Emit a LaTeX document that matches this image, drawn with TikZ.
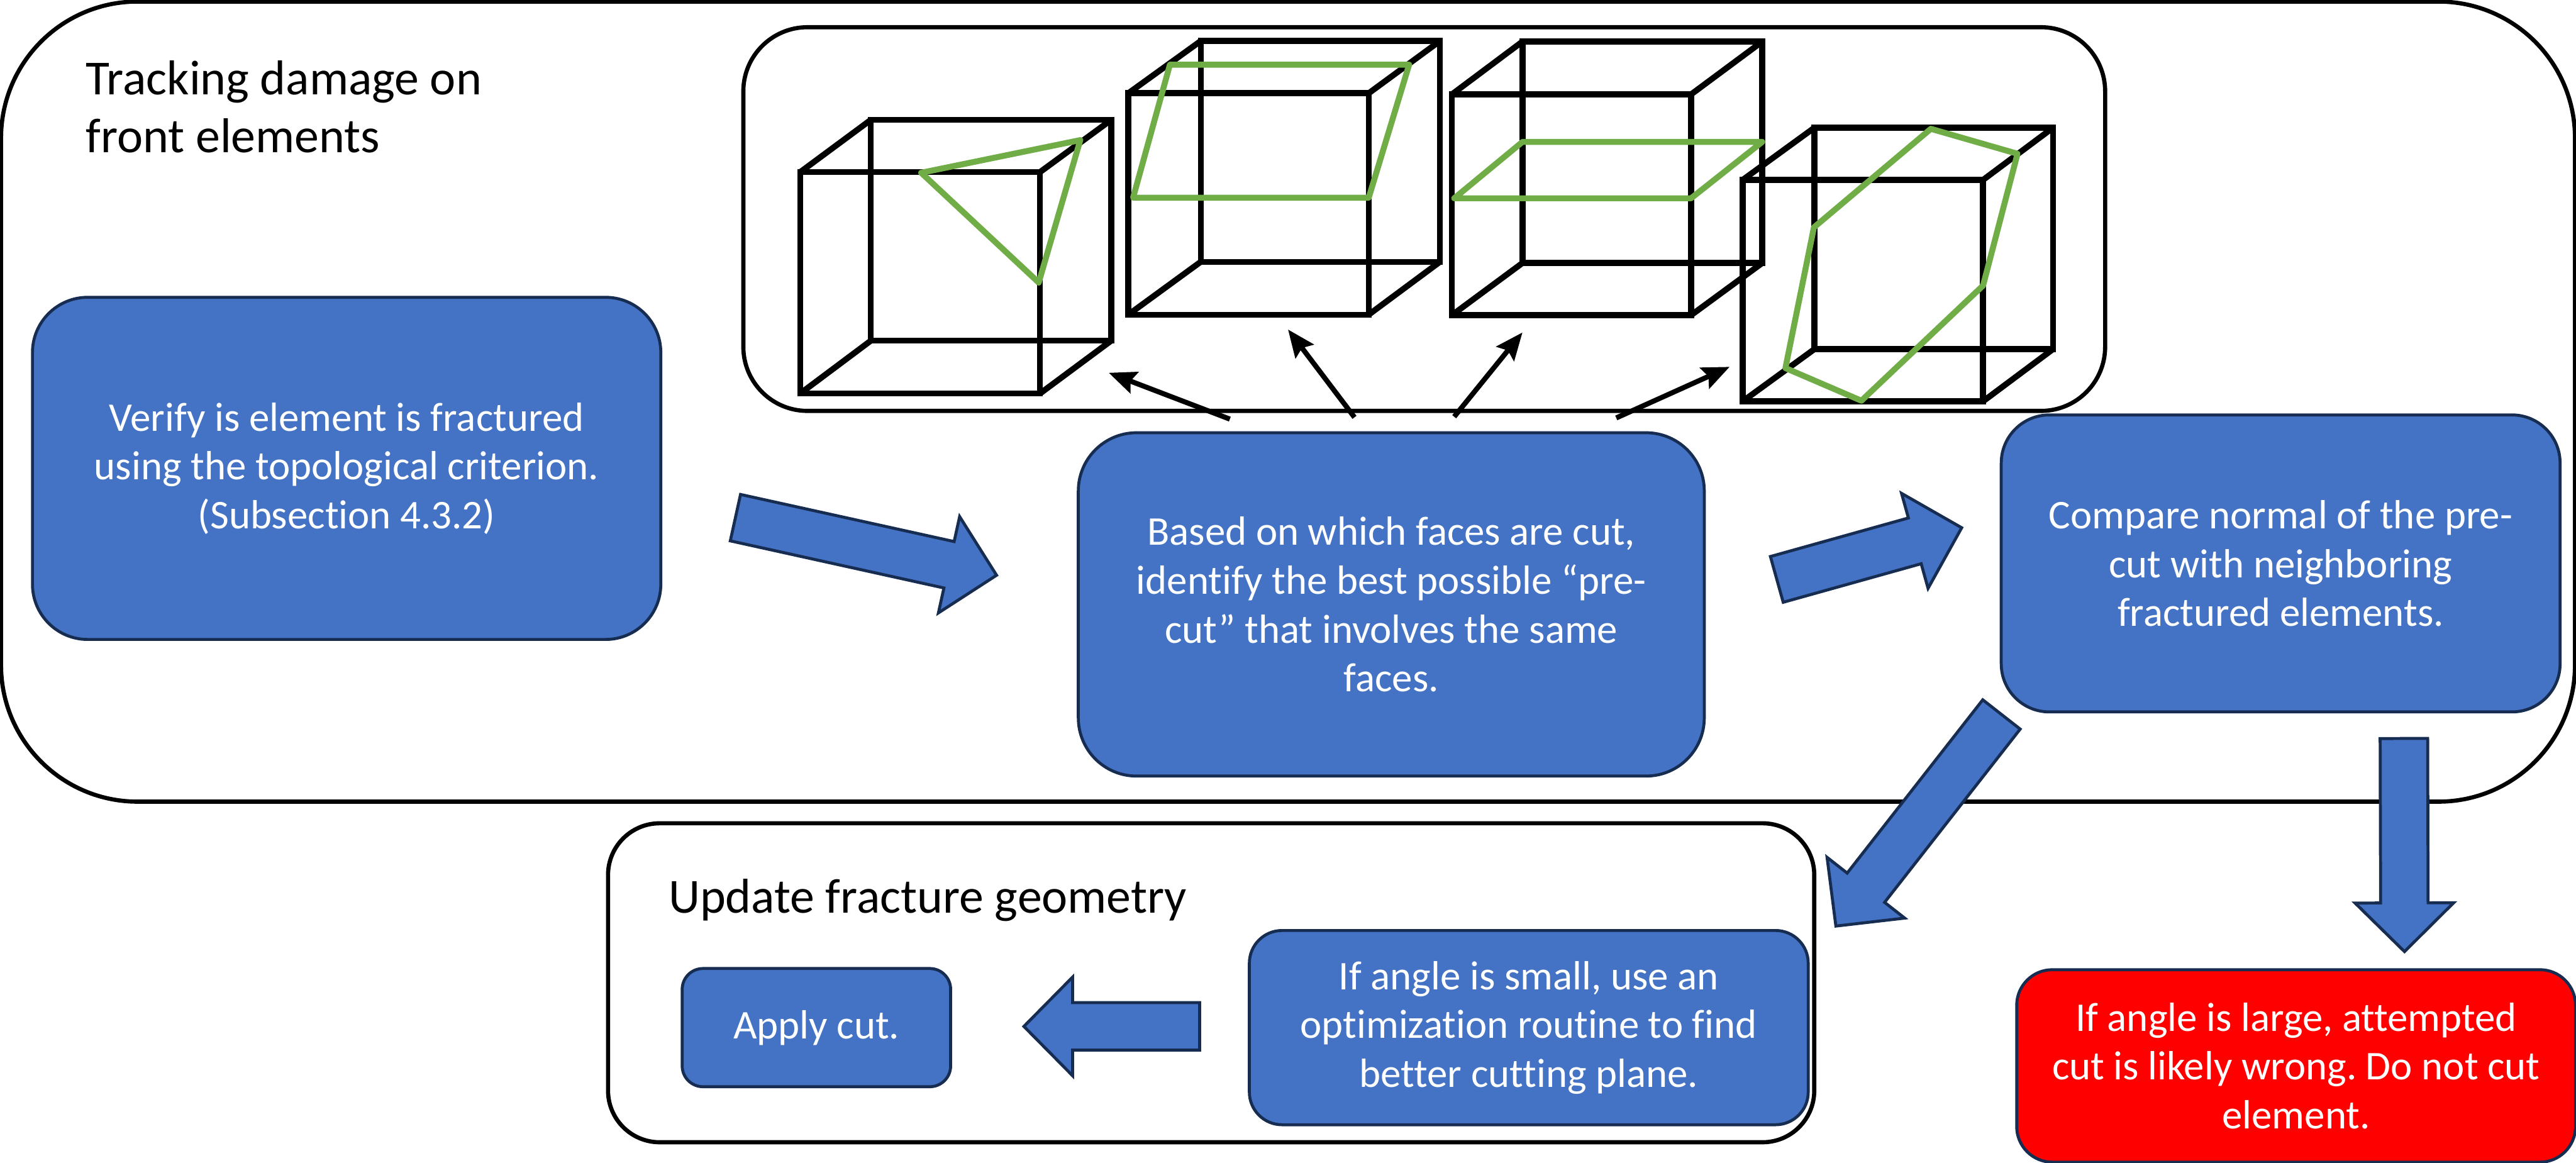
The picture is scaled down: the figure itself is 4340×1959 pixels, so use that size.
\documentclass[tikz,border=0pt]{standalone}
\usepackage{fontspec}
\setmainfont{Carlito}[Ligatures=CommonOff]
\usetikzlibrary{positioning,calc,arrows.meta}
\frenchspacing

\definecolor{boxblue}{HTML}{4472C4}
\definecolor{edgeblue}{HTML}{172C51}
\definecolor{cutgreen}{HTML}{70AD47}

\begin{document}
\begin{tikzpicture}[
    x=0.01cm, y=-0.01cm,
    frame/.style={draw=black, fill=white, rectangle, line width=0.07cm, outer sep=0pt},
    title_text/.style={inner sep=0pt, outer sep=0pt, align=left, font=\fontsize{23.45pt}{27.9pt}\selectfont},
    block/.style={draw=edgeblue, fill=boxblue, text=white, rectangle, line width=0.05cm, inner sep=0pt, outer sep=0pt, align=center, font=\fontsize{19.55pt}{23.4pt}\selectfont},
    stop_block/.style={block, fill=red},
    block_arrow/.style={draw=edgeblue, fill=boxblue, line width=0.05cm, to path={
        ($(\tikztostart)!0.4cm!90:(\tikztotarget)$)
        -- ($(\tikztotarget)!0.82cm!(\tikztostart)!0.4cm!90:(\tikztotarget)$)
        -- ($(\tikztotarget)!0.82cm!(\tikztostart)!0.83cm!90:(\tikztotarget)$)
        -- (\tikztotarget)
        -- ($(\tikztotarget)!0.82cm!(\tikztostart)!0.83cm!-90:(\tikztotarget)$)
        -- ($(\tikztotarget)!0.82cm!(\tikztostart)!0.4cm!-90:(\tikztotarget)$)
        -- ($(\tikztostart)!0.4cm!-90:(\tikztotarget)$)
        -- cycle}},
    small_arrow/.style={-{Stealth[length=0.46cm, width=0.38cm, inset=0.07cm]}, line width=0.085cm},
    cube_line/.style={draw=black, line width=0.1cm},
    cut_line/.style={draw=cutgreen, line width=0.1cm, line join=round}
]
\useasboundingbox (0,0) rectangle (4340,1959);

% frames
\node[frame, minimum width=43.34cm, minimum height=13.47cm, rounded corners=2.3cm] (front_frame) at (2170,676.5) {};
\node[frame, minimum width=22.93cm, minimum height=6.46cm, rounded corners=1.08cm] (cube_frame) at (2399.5,369) {};
\node[frame, minimum width=20.31cm, minimum height=5.37cm, rounded corners=0.87cm] (update_frame) at (2040.5,1655.5) {};

\node[title_text, anchor=north west] (front_title) at (145,102) {Tracking damage on\\front elements};
\node[title_text, below right=0.94cm and 1.02cm of update_frame.north west, anchor=north west] (update_title) {Update fracture geometry};

% blocks
\node[block, minimum width=10.58cm, minimum height=5.76cm, rounded corners=0.93cm] (verify) at (584,789) {Verify is element is fractured\\using the topological criterion.\\(Subsection 4.3.2)};
\node[block, right=7.03cm of verify, yshift=-2.29cm, minimum width=10.54cm, minimum height=5.78cm, rounded corners=0.98cm] (precut) {Based on which faces are cut,\\identify the best possible “pre-\\cut” that involves the same\\faces.};
\node[block, right=5cm of precut, yshift=0.69cm, minimum width=9.41cm, minimum height=5cm, rounded corners=0.81cm] (compare) {Compare normal of the pre-\\cut with neighboring\\fractured elements.};
\node[stop_block, below=4.34cm of compare, xshift=0.26cm, minimum width=9.41cm, minimum height=3.24cm, rounded corners=0.6cm] (large) {If angle is large, attempted\\cut is likely wrong. Do not cut\\element.};
\node[block, left=3.51cm of large, yshift=0.645cm, minimum width=9.41cm, minimum height=3.27cm, rounded corners=0.55cm] (small) {If angle is small, use an\\optimization routine to find\\better cutting plane.};
\node[block, left=5.03cm of small, minimum width=4.52cm, minimum height=1.99cm, rounded corners=0.35cm] (apply) {Apply cut.};

% cubes
\foreach \fl/\fr/\ft/\fb/\bl/\br/\bt/\bb in {1348/1752/290/663/1467/1872/202/574, 1901/2306/157/530/2023/2426/69/441, 2446/2849/159/531/2565/2969/70/443, 2936/3341/303/676/3057/3459/215/588}{
    \draw[cube_line] (\bl,\bt) rectangle (\br,\bb);
    \draw[cube_line] (\fl,\ft) rectangle (\fr,\fb);
    \draw[cube_line] (\fl,\ft) -- (\bl,\bt) (\fr,\ft) -- (\br,\bt) (\fl,\fb) -- (\bl,\bb) (\fr,\fb) -- (\br,\bb);
}
\draw[cut_line] (1552,291) -- (1820,236) -- (1750,476) -- cycle;
\draw[cut_line] (1909,333) -- (2306,333) -- (2374,109) -- (1971,109) -- cycle;
\draw[cut_line] (2450,334) -- (2849,334) -- (2969,239) -- (2565,239) -- cycle;
\draw[cut_line] (3253,217) -- (3399,259) -- (3341,481) -- (3136,675) -- (3008,620) -- (3056,383) -- cycle;

% arrows from the middle block up to the cubes
\coordinate (tail_one) at (2072,706);
\coordinate (tail_two) at (2282,703);
\coordinate (tail_three) at (2450,702);
\coordinate (tail_four) at (2723,704);
\coordinate (cube_one) at (1868,628);
\coordinate (cube_two) at (2170,555);
\coordinate (cube_three) at (2565,560);
\coordinate (cube_four) at (2914,618);
\draw[small_arrow] (tail_one) -- (cube_one);
\draw[small_arrow] (tail_two) -- (cube_two);
\draw[small_arrow] (tail_three) -- (cube_three);
\draw[small_arrow] (tail_four) -- (cube_four);

% block arrows
\coordinate (verify_out) at (1239,872);
\coordinate (precut_in) at (1679,969);
\coordinate (precut_out) at (2993.5,976);
\coordinate (compare_in) at (3305,889);
\coordinate (compare_left) at (3372,1203.5);
\coordinate (small_in) at (3093,1560);
\coordinate (compare_down) at (4050,1244);
\coordinate (large_in) at (4051,1603);
\coordinate (small_out) at (2021,1729);
\coordinate (apply_in) at (1725,1729);
\draw[block_arrow] (verify_out) to (precut_in);
\draw[block_arrow] (precut_out) to (compare_in);
\draw[block_arrow] (compare_left) to (small_in);
\draw[block_arrow] (compare_down) to (large_in);
\draw[block_arrow] (small_out) to (apply_in);

\end{tikzpicture}
\end{document}
